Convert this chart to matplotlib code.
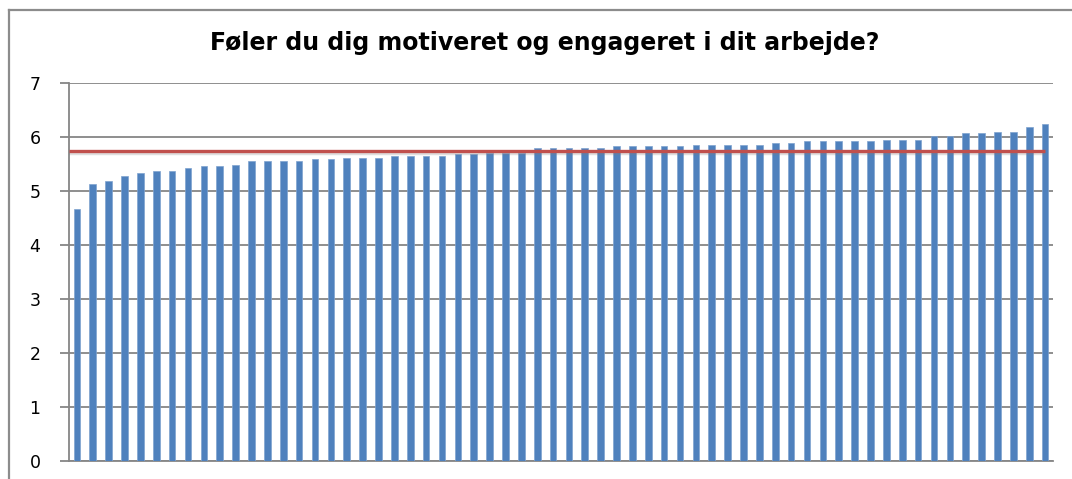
import matplotlib
matplotlib.use("Agg")
import matplotlib.pyplot as plt
import matplotlib.patheffects as pe
from matplotlib.lines import Line2D

title = "Føler du dig motiveret og engageret i dit arbejde?"
values = [
    4.67, 5.13, 5.19, 5.28, 5.34, 5.37, 5.37, 5.43, 5.46, 5.46,
    5.49, 5.56, 5.56, 5.56, 5.56, 5.59, 5.59, 5.62, 5.62, 5.62,
    5.65, 5.65, 5.65, 5.65, 5.68, 5.68, 5.71, 5.71, 5.71, 5.80,
    5.80, 5.80, 5.80, 5.80, 5.83, 5.83, 5.83, 5.83, 5.83, 5.86,
    5.86, 5.86, 5.86, 5.86, 5.89, 5.89, 5.92, 5.92, 5.92, 5.92,
    5.92, 5.95, 5.95, 5.95, 6.01, 6.01, 6.07, 6.07, 6.10, 6.10,
    6.19, 6.25,
]
average = 5.74
yticks = [0, 1, 2, 3, 4, 5, 6, 7]

W, H = 1072, 479
fig = plt.figure(figsize=(W / 100, H / 100), dpi=100)
fig.patch.set_facecolor("white")

# outer chart border (only left and top edges are visible)
bx, by = 8.5 / W, 1 - 9.5 / H
fig.add_artist(Line2D([bx, bx], [0, by], transform=fig.transFigure,
                      color="#8c8c8c", linewidth=1.6))
fig.add_artist(Line2D([bx, 1.0], [by, by], transform=fig.transFigure,
                      color="#8c8c8c", linewidth=1.6))

ax = fig.add_axes([69 / W, (H - 461) / H, (1053 - 69) / W, (461 - 83) / H])
x = list(range(len(values)))
ax.bar(x, values, width=0.42, color="#4F81BD", edgecolor="#7fa3cf",
       linewidth=0.5, zorder=3)
ax.plot([-0.5, len(values) - 1], [average, average], color="#C0504D",
        linewidth=2.4, zorder=4, solid_capstyle="butt",
        path_effects=[pe.SimpleLineShadow(offset=(0, -1.5), shadow_color="gray",
                                          alpha=0.25, linewidth=3.2),
                      pe.Normal()])

ax.set_xlim(-0.5, len(values) - 0.5)
ax.set_ylim(0, 7)
ax.set_yticks(yticks)
ax.set_yticklabels([str(t) for t in yticks], fontsize=12.5,
                   fontfamily="DejaVu Sans")
ax.set_xticks([])
ax.yaxis.grid(True, color="#868686", linewidth=1.3, zorder=0)
ax.set_axisbelow(True)
for s in ["top", "right"]:
    ax.spines[s].set_visible(False)
ax.spines["left"].set_color("#868686")
ax.spines["left"].set_linewidth(1.3)
ax.spines["bottom"].set_color("#868686")
ax.spines["bottom"].set_linewidth(1.3)
ax.tick_params(axis="y", length=6.5, width=1.3, color="#868686", pad=14)

fig.text(545 / W, 1 - 43 / H, title, ha="center", va="center",
         fontsize=17, fontweight="bold", fontfamily="DejaVu Sans")

fig.savefig("out.png", dpi=100)
